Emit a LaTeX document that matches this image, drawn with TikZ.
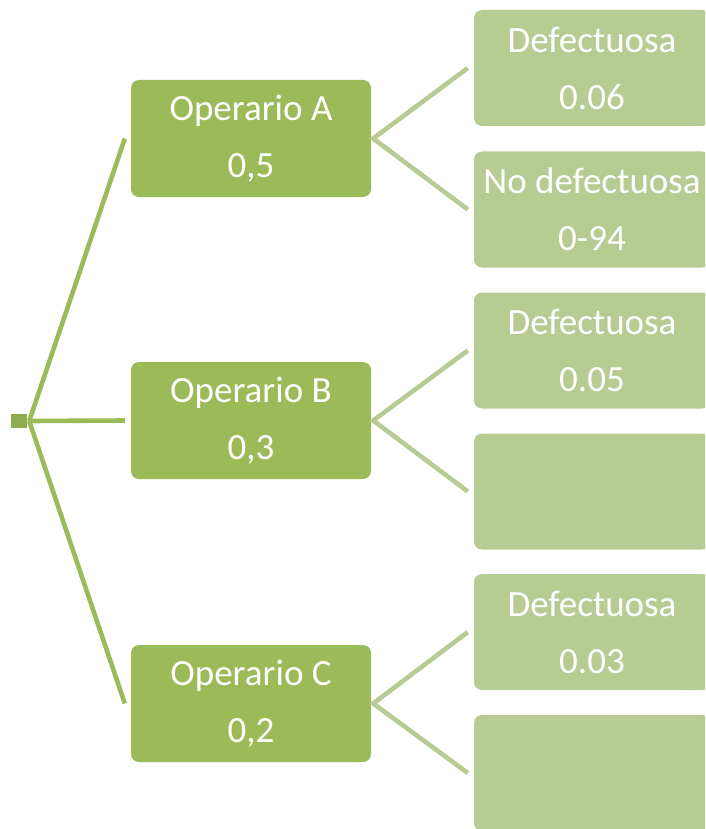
\documentclass[tikz,border=0pt]{standalone}
\usepackage{fontspec}
\setmainfont{Carlito}
\usepackage{tikz}
\usetikzlibrary{positioning}
\definecolor{opgreen}{HTML}{9BBB59}
\definecolor{leafgreen}{HTML}{B7CC93}
\definecolor{rootgreen}{HTML}{8FAD4F}

\begin{document}
\begin{tikzpicture}[x=1pt,y=-1pt,
  opbox/.style={fill=opgreen, rounded corners=8pt, minimum width=240pt, minimum height=117pt,
    inner sep=0pt, text=white, align=center, font=\fontsize{37}{57}\selectfont},
  leafbox/.style={opbox, fill=leafgreen, minimum width=236pt, minimum height=116pt},
  trunk/.style={opgreen, line width=4.6pt},
  twig/.style={leafgreen, line width=4.6pt}]
\useasboundingbox (0,0) rectangle (705,829);
\clip (0,0) rectangle (705,829);

\node[fill=rootgreen, minimum width=16pt, minimum height=14pt, inner sep=0pt] (root) at (19,421) {};
\coordinate (fork) at ([xshift=2pt]root.east);

\node[opbox] (opA) at (251,138.5) {Operario A\\0,5};
\node[opbox] (opB) at (251,420.5) {Operario B\\0,3};
\node[opbox] (opC) at (251,703.5) {Operario C\\0,2};

\node[leafbox] (defA) at (592,68) {Defectuosa\\0.06};
\node[leafbox] (nodefA) at (592,209.5) {No defectuosa\\0-94};
\node[leafbox] (defB) at (592,350.5) {Defectuosa\\0.05};
\node[leafbox] (nodefB) at (592,491.5) {};
\node[leafbox] (defC) at (592,632) {Defectuosa\\0.03};
\node[leafbox] (nodefC) at (592,773) {};

% first level
\coordinate (inA) at ([xshift=-6pt]opA.west);
\coordinate (inB) at ([xshift=-6pt]opB.west);
\coordinate (inC) at ([xshift=-6pt]opC.west);
\draw[trunk] (fork) -- (inA);
\draw[trunk] (fork) -- (inB);
\draw[trunk] (fork) -- (inC);

% second level
\foreach \op/\up/\down in {opA/defA/nodefA, opB/defB/nodefB, opC/defC/nodefC}{
  \coordinate (out) at ([xshift=2pt]\op.east);
  \draw[twig] ([xshift=-6pt]\up.west) -- (out) -- ([xshift=-6pt]\down.west);
}
\end{tikzpicture}
\end{document}
